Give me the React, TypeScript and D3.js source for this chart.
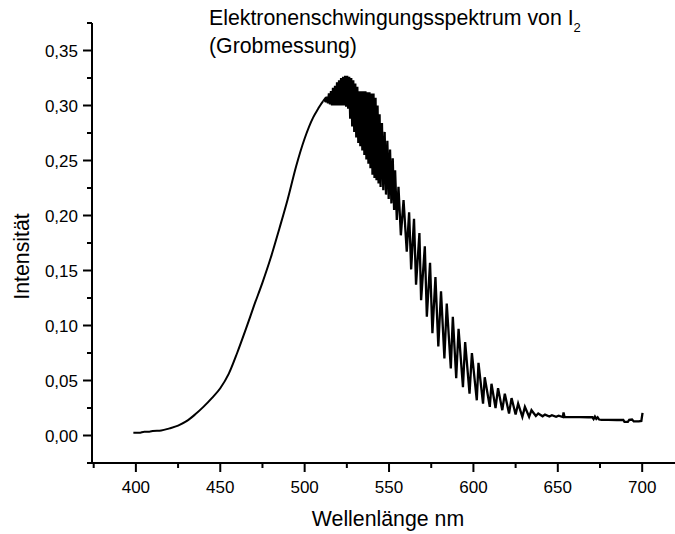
import React from "react";
import * as d3 from "d3";

// ---- data (wavelength nm, intensity) ----
const smoothWl = [398.5, 402, 405, 408, 410, 415, 420, 425, 430, 435, 440, 445, 450, 455, 460, 465, 470, 475, 480, 485, 490, 495, 500, 505, 508, 510, 511];
const smoothI = [0.0025, 0.0025, 0.0035, 0.0035, 0.004, 0.0045, 0.0065, 0.009, 0.013, 0.019, 0.026, 0.034, 0.043, 0.056, 0.075, 0.096, 0.118, 0.139, 0.162, 0.188, 0.215, 0.245, 0.27, 0.289, 0.297, 0.302, 0.304];

const denseWl = [512.0, 512.6, 513.2, 513.8, 514.4, 515.0, 515.6, 516.2, 516.8, 517.4, 518.0, 518.6, 519.2, 519.8, 520.4, 521.0, 521.6, 522.2, 522.8, 523.4, 524.0, 524.6, 525.2, 525.8, 526.4, 527.0, 527.6, 528.2, 528.8, 529.4, 530.0, 530.6, 531.2, 531.8, 532.4, 533.0, 533.6, 534.2, 534.8, 535.4, 536.0, 536.6, 537.2, 537.8, 538.4, 539.0, 539.6, 540.2, 540.8, 541.4, 542.0, 542.6, 543.2, 543.8, 544.4, 545.0, 545.8, 546.6, 547.4, 548.2, 549.0, 549.8, 550.6, 551.4, 552.2, 553.0];
const denseI = [0.306, 0.303, 0.308, 0.302, 0.311, 0.301, 0.313, 0.3, 0.316, 0.3, 0.318, 0.3, 0.321, 0.3, 0.323, 0.3, 0.325, 0.3, 0.326, 0.3, 0.327, 0.299, 0.327, 0.297, 0.326, 0.288, 0.325, 0.281, 0.323, 0.276, 0.32, 0.271, 0.317, 0.266, 0.313, 0.263, 0.313, 0.259, 0.313, 0.255, 0.313, 0.251, 0.312, 0.247, 0.312, 0.243, 0.311, 0.237, 0.311, 0.234, 0.307, 0.232, 0.3, 0.229, 0.292, 0.226, 0.284, 0.223, 0.276, 0.219, 0.268, 0.215, 0.26, 0.211, 0.252, 0.205];

const teethWl = [553.6, 554.6, 555.6, 557.0, 558.6, 560.5, 561.9, 563.1, 564.8, 566.0, 568.0, 569.0, 571.2, 572.4, 574.3, 575.7, 577.5, 579.2, 580.8, 582.8, 584.2, 586.6, 587.8, 589.8, 591.2, 593.8, 595.1, 597.7, 599.1, 602.0, 603.0, 605.7, 606.7, 609.7, 610.7, 613.1, 614.6, 617.1, 618.6, 621.1, 622.6, 625.0, 626.5, 629.0, 630.5, 633.0, 634.4, 637.0, 638.4];
const teethI = [0.241, 0.196, 0.226, 0.182, 0.214, 0.167, 0.203, 0.151, 0.197, 0.137, 0.184, 0.123, 0.172, 0.108, 0.157, 0.093, 0.144, 0.081, 0.131, 0.07, 0.12, 0.061, 0.108, 0.052, 0.097, 0.044, 0.085, 0.038, 0.075, 0.032, 0.066, 0.029, 0.053, 0.026, 0.047, 0.025, 0.043, 0.023, 0.038, 0.02, 0.034, 0.019, 0.029, 0.017, 0.026, 0.017, 0.023, 0.0177, 0.02];

const tailWl = [641.0, 642.4, 645.0, 646.5, 649.0, 650.5, 653.0, 653.4, 654.0, 658, 663, 668, 670.5, 671.2, 672.0, 672.8, 673.6, 674.5, 676, 680, 685, 688.8, 689.5, 691.5, 692.3, 694, 695, 698, 699.5, 700.2];
const tailI = [0.0175, 0.019, 0.0172, 0.0185, 0.017, 0.018, 0.0168, 0.021, 0.0168, 0.0167, 0.0167, 0.0166, 0.0166, 0.015, 0.0172, 0.0152, 0.0165, 0.0145, 0.0142, 0.0142, 0.0141, 0.0141, 0.0124, 0.0124, 0.0142, 0.0145, 0.0128, 0.0128, 0.0132, 0.0205];

const xMajorTicks = [400, 450, 500, 550, 600, 650, 700];
const xMinorTicks = [375, 425, 475, 525, 575, 625, 675, 725];
const yMajorTicks = [0, 0.05, 0.1, 0.15, 0.2, 0.25, 0.3, 0.35];
const yMinorTicks = [-0.025, 0.025, 0.075, 0.125, 0.175, 0.225, 0.275, 0.325, 0.375];

const titleLine1 = "Elektronenschwingungsspektrum von I";
const titleSub = "2";
const titleLine2 = "(Grobmessung)";
const xLabel = "Wellenlänge nm";
const yLabel = "Intensität";

function pairs(w: number[], v: number[]): [number, number][] {
  const n = Math.min(w.length, v.length);
  const out: [number, number][] = [];
  for (let i = 0; i < n; i++) out.push([w[i], v[i]]);
  return out;
}

export default function App() {
  const W = 675, H = 534;
  const x = d3.scaleLinear().domain([374, 725]).range([92, 92 + 351 * 1.6877]);
  const y = d3.scaleLinear().domain([-0.025, 0.375]).range([463, 23]);

  const smooth = pairs(smoothWl, smoothI);
  const bands = [
    smooth[smooth.length - 1],
    ...pairs(denseWl, denseI),
    ...pairs(teethWl, teethI),
    ...pairs(tailWl, tailI),
  ];
  const smoothLine = d3.line<[number, number]>().x(d => x(d[0])).y(d => y(d[1])).curve(d3.curveMonotoneX);
  const bandLine = d3.line<[number, number]>().x(d => x(d[0])).y(d => y(d[1]));
  const fmt = (v: number) => v.toFixed(2).replace(".", ",");
  const font = "'Liberation Sans', Arial, sans-serif";
  const x0 = x(374), y0 = y(-0.025);

  return (
    <svg width={W} height={H} style={{ position: "absolute", left: 0, top: 0, background: "#fff" }} fontFamily={font}>
      <rect width={W} height={H} fill="#fff" />
      {/* title */}
      <text x={209} y={25} fontSize={21.3} fill="#000">
        {titleLine1}
        <tspan fontSize={13} dy={7}>{titleSub}</tspan>
      </text>
      <text x={209} y={53} fontSize={21.3} fill="#000">{titleLine2}</text>

      {/* data line */}
      <path d={smoothLine(smooth) || ""} fill="none" stroke="#000" strokeWidth={2} />
      <path d={bandLine(bands) || ""} fill="none" stroke="#000" strokeWidth={2.3} />

      {/* y axis */}
      <line x1={x0} x2={x0} y1={y(0.375)} y2={y0} stroke="#000" strokeWidth={2} />
      {yMajorTicks.map(t => (
        <g key={"ym" + t}>
          <line x1={x0 - 9} x2={x0} y1={y(t)} y2={y(t)} stroke="#000" strokeWidth={2} />
          <text x={78} y={y(t)} dy="0.36em" textAnchor="end" fontSize={17}>{fmt(t)}</text>
        </g>
      ))}
      {yMinorTicks.map(t => (
        <line key={"yn" + t} x1={x0 - 5} x2={x0} y1={y(t)} y2={y(t)} stroke="#000" strokeWidth={2} />
      ))}

      {/* x axis */}
      <line x1={x0 - 1} x2={x(725)} y1={y0} y2={y0} stroke="#000" strokeWidth={2} />
      {xMajorTicks.map(t => (
        <g key={"xm" + t}>
          <line x1={x(t)} x2={x(t)} y1={y0} y2={y0 + 9} stroke="#000" strokeWidth={2} />
          <text x={x(t)} y={493} textAnchor="middle" fontSize={17}>{t}</text>
        </g>
      ))}
      {xMinorTicks.map(t => (
        <line key={"xn" + t} x1={x(t)} x2={x(t)} y1={y0} y2={y0 + 5} stroke="#000" strokeWidth={2} />
      ))}

      {/* axis labels */}
      <text x={388} y={526} textAnchor="middle" fontSize={21.3}>{xLabel}</text>
      <text transform={`translate(29,256.5) rotate(-90)`} textAnchor="middle" fontSize={21.3}>{yLabel}</text>
    </svg>
  );
}
